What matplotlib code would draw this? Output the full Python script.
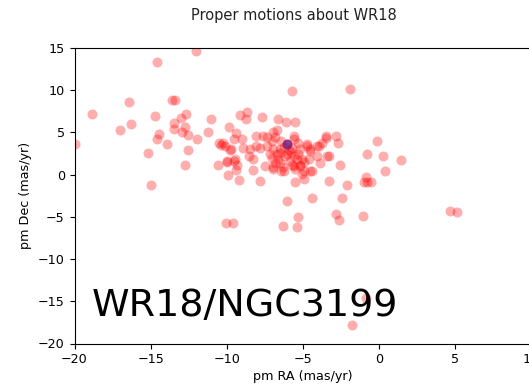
import matplotlib
matplotlib.use("Agg")
import matplotlib.pyplot as plt

pm_ra = [
    -12.0, -14.55, -13.6, -13.4, -16.4, -18.85, -14.7, -12.65, -13.0, -16.3,
    -17.0, -13.45, -13.45, -12.75, -12.95, -12.55, -14.45, -14.55, -11.95, -13.9,
    -15.15, -12.55, -12.75, -15.0, -20.0, -11.25, -11.05, -10.55, -10.5, -10.25,
    -9.85, -9.9, -9.7, -9.55, -9.4, -9.95, -9.4, -9.5, -9.2, -9.1,
    -8.65, -8.75, -7.65, -6.65, -6.1, -5.5, -5.7, -1.9, -9.0, -8.95,
    -8.1, -7.6, -6.95, -6.7, -5.6, -7.05, -8.05, -8.45, -8.55, -7.8,
    -7.15, -6.5, -6.05, -5.15, -4.75, -4.5, -3.95, -3.5, -3.5, -2.8,
    -2.7, -3.3, -4.05, -3.85, -5.4, -5.7, -5.15, -4.95, -4.5, -5.05,
    -6.25, -6.95, -6.8, -7.5, -8.25, -8.25, -9.45, -9.35, -10.0, -7.8,
    -5.5, -4.95, -3.25, -2.1, -2.55, -0.75, 0.25, -0.15, 1.45, 0.4,
    -0.85, -0.75, -0.5, -1.0, -10.05, -9.6, -6.05, -4.4, -2.45, -5.3,
    -6.3, -5.4, -2.8, -2.65, -1.05, 4.7, 5.15, -0.85, -1.75,
    -6.95, -6.4, -5.6, -5.2, -5.85, -6.5, -6.7, -6.15, -5.6, -5.05,
    -7.35, -6.95, -6.5, -5.7, -5.3, -4.75, -4.05, -3.75, -6.8, -7.35,
    -6.4, -5.6, -4.5, -3.4, -4.4, -10.4, -10.1, -9.8, -6.2, -5.9,
    -6.6, -5.8, -5.3, -4.9, -6.3, -7.0, -5.5, -4.6,
]
pm_dec = [
    14.7, 13.4, 8.9, 8.8, 8.6, 7.2, 7.0, 7.2, 6.7, 6.0,
    5.3, 6.15, 5.35, 5.7, 5.05, 4.7, 4.8, 4.25, 4.25, 3.6,
    2.6, 2.9, 1.2, -1.25, 3.6, 5.1, 6.55, 1.1, 3.7, 3.8,
    5.7, 0.0, 3.0, 4.2, 4.95, 1.5, 0.6, 1.6, -0.6, 7.05,
    7.4, 6.6, 6.85, 6.55, 6.25, 6.25, 9.9, 10.2, 4.25, 3.1,
    4.55, 4.55, 5.0, 5.3, 4.25, 4.0, 3.4, 3.0, 2.2, 3.2,
    2.4, 2.6, 2.4, 3.0, 3.4, 2.8, 3.4, 4.6, 4.3, 4.6,
    3.75, 2.2, 2.2, 1.4, 1.8, 1.1, 1.0, 0.45, 0.45, 0.05,
    0.45, 0.85, 1.4, 1.0, 0.6, 1.8, 1.8, 1.2, 1.6, -0.8,
    -0.9, -0.5, -0.8, -1.25, 1.2, 2.5, 2.2, 3.95, 1.7, 0.4,
    -0.3, -0.9, -0.9, -0.85, -5.75, -5.75, -3.15, -2.8, -2.8, -5.05,
    -6.05, -6.2, -4.7, -5.4, -4.9, -4.25, -4.45, -14.65, -17.8,
    0.65, 0.45, 1.0, 1.2, 1.6, 1.4, 2.4, 2.2, 2.2, 1.8,
    3.4, 3.0, 3.0, 3.2, 3.8, 3.6, 3.45, 3.8, 4.4, 4.4,
    4.0, 4.55, 3.0, 2.2, 0.45, 3.5, 3.4, 2.9, 3.3, 2.9,
    1.9, 2.7, 2.5, 1.5, 0.9, 2.0, 0.7, 1.9,
]
star_ra = [-6.05]
star_dec = [3.6]

title = "Proper motions about WR18"
label_text = "WR18/NGC3199"
x_label = "pm RA (mas/yr)"
y_label = "pm Dec (mas/yr)"

W, H, DPI = 529, 385, 100
fig = plt.figure(figsize=(W / DPI, H / DPI), dpi=DPI)
left, right, top, bottom = 74.5, 531.0, 48.0, 343.5
ax = fig.add_axes([left / W, 1 - bottom / H, (right - left) / W, (bottom - top) / H])

ax.scatter(pm_ra, pm_dec, s=52, color="red", alpha=0.32, linewidths=0)
ax.scatter(star_ra, star_dec, s=52, color="#7a1a7a", alpha=0.85, linewidths=0)

ax.set_xlim(-20, 10)
ax.set_ylim(-20, 15)
ax.set_xticks([-20, -15, -10, -5, 0, 5, 10])
ax.set_yticks([-20, -15, -10, -5, 0, 5, 10, 15])
ax.tick_params(labelsize=9.2)
ax.set_xlabel(x_label, fontsize=9.2, labelpad=3)
ax.set_ylabel(y_label, fontsize=9.2, labelpad=4)

ax.text(-18.85, -16.7, label_text, fontsize=27.4, color="black",
        ha="left", va="baseline")

fig.text(294 / W, 1 - 20 / H, title, fontsize=10.5, ha="center", va="baseline",
         color="#222222")

fig.savefig("out.png", dpi=DPI)
